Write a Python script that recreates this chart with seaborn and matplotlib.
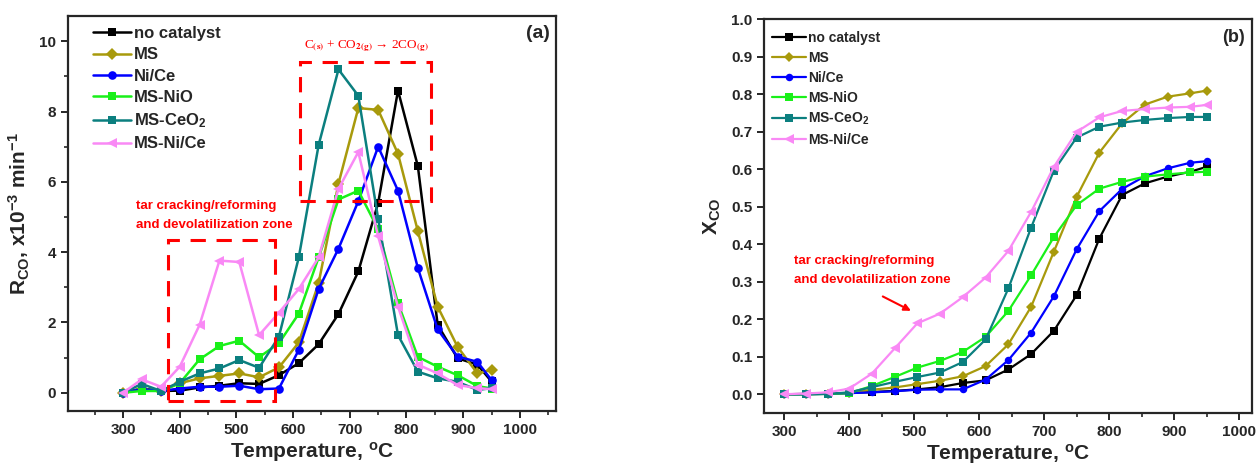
import numpy as np
import pandas as pd
import matplotlib
matplotlib.use('Agg')
import matplotlib.pyplot as plt
import seaborn as sns
from matplotlib.patches import Rectangle
from matplotlib.ticker import MultipleLocator, FormatStrFormatter

# ─────────────────────────────────────────────
# Datos
# ─────────────────────────────────────────────
temperatura = [300, 333, 367, 400, 435, 470, 505, 540, 575, 610,
               645, 680, 715, 750, 785, 820, 855, 890, 925, 950]

series = ['no catalyst', 'MS', 'Ni/Ce', 'MS-NiO', 'MS-CeO$_2$', 'MS-Ni/Ce']
colores = ['#000000', '#A89A0C', '#0000FF', '#19F019', '#0B7F7F', '#F989F5']
marcadores = ['s', 'D', 'o', 's', 's', '<']

# (a) R_CO, x10^-3 min^-1
rco_no_cat = [0, 0.12, 0.05, 0.06, 0.15, 0.2, 0.27, 0.25, 0.5, 0.84,
              1.38, 2.24, 3.45, 5.4, 8.6, 6.45, 1.93, 0.98, 0.8, 0.32]
rco_ms = [0, 0.1, 0.05, 0.27, 0.41, 0.48, 0.55, 0.44, 0.72, 1.43,
          3.12, 5.95, 8.1, 8.05, 6.8, 4.6, 2.45, 1.31, 0.55, 0.65]
rco_nice = [0, 0.1, 0.05, 0.12, 0.17, 0.17, 0.2, 0.1, 0.12, 1.22,
            2.95, 4.1, 5.45, 7.0, 5.75, 3.55, 1.8, 1.03, 0.88, 0.36]
rco_msnio = [0, 0.05, 0.05, 0.27, 0.95, 1.33, 1.48, 1.01, 1.41, 2.25,
             3.85, 5.5, 5.75, 4.65, 2.55, 1.02, 0.74, 0.5, 0.19, 0.12]
rco_msceo2 = [0, 0.25, 0.05, 0.31, 0.55, 0.69, 0.93, 0.71, 1.6, 3.85,
              7.05, 9.2, 8.45, 4.95, 1.64, 0.6, 0.41, 0.31, 0.08, 0.13]
rco_msnice = [0, 0.38, 0.17, 0.74, 1.93, 3.76, 3.72, 1.64, 2.28, 2.95,
              3.85, 5.8, 6.85, 4.45, 2.45, 0.8, 0.55, 0.22, 0.13, 0.1]

# (b) X_CO
xco_no_cat = [0, 0.001, 0.002, 0.003, 0.006, 0.009, 0.013, 0.019, 0.03, 0.037,
              0.066, 0.107, 0.169, 0.264, 0.415, 0.531, 0.562, 0.58, 0.593, 0.606]
xco_ms = [0, 0, 0.001, 0.004, 0.012, 0.018, 0.027, 0.036, 0.048, 0.075,
          0.133, 0.233, 0.38, 0.526, 0.644, 0.722, 0.772, 0.793, 0.802, 0.809]
xco_nice = [0, 0, 0.001, 0.003, 0.005, 0.008, 0.012, 0.013, 0.013, 0.039,
            0.091, 0.164, 0.261, 0.386, 0.488, 0.547, 0.581, 0.602, 0.617, 0.621]
xco_msnio = [0, 0, 0.001, 0.003, 0.022, 0.046, 0.071, 0.089, 0.113, 0.153,
             0.222, 0.317, 0.419, 0.504, 0.548, 0.566, 0.58, 0.586, 0.591, 0.593]
xco_msceo2 = [0, 0, 0.001, 0.005, 0.019, 0.033, 0.046, 0.058, 0.086, 0.146,
              0.282, 0.444, 0.596, 0.684, 0.713, 0.724, 0.731, 0.736, 0.739, 0.739]
xco_msnice = [0, 0.002, 0.005, 0.015, 0.055, 0.122, 0.189, 0.215, 0.259, 0.311,
              0.382, 0.486, 0.606, 0.699, 0.738, 0.755, 0.76, 0.764, 0.766, 0.771]

datos_a = [rco_no_cat, rco_ms, rco_nice, rco_msnio, rco_msceo2, rco_msnice]
datos_b = [xco_no_cat, xco_ms, xco_nice, xco_msnio, xco_msceo2, xco_msnice]

# ─────────────────────────────────────────────
# Estilo
# ─────────────────────────────────────────────
sns.set_style('ticks')
plt.rcParams['font.family'] = ['Liberation Sans', 'DejaVu Sans']
plt.rcParams['font.weight'] = 'bold'
plt.rcParams['mathtext.default'] = 'regular'
plt.rcParams['axes.linewidth'] = 1.6
plt.rcParams['xtick.direction'] = 'out'
plt.rcParams['ytick.direction'] = 'out'

fig = plt.figure(figsize=(12.58, 4.67), dpi=100)
ax1 = fig.add_axes([0.0541, 0.1199, 0.388, 0.8458])
ax2 = fig.add_axes([0.6073, 0.1156, 0.388, 0.8437])


def dibujar(ax, datos, ms, lw):
    for nombre, vals, c, m in zip(series, datos, colores, marcadores):
        df = pd.DataFrame({'T': temperatura, 'v': vals})
        extra = 1.5 if m == '<' else 0
        sns.lineplot(data=df, x='T', y='v', ax=ax, color=c, marker=m,
                     markersize=ms + extra, markeredgewidth=0, linewidth=lw,
                     label=nombre, sort=False)


def ejes(ax, fs_tick):
    for s in ax.spines.values():
        s.set_visible(True)
        s.set_linewidth(1.6)
    ax.tick_params(which='major', length=5, width=1.4, labelsize=fs_tick)
    ax.tick_params(which='minor', length=3, width=1.2)
    for lab in ax.get_xticklabels() + ax.get_yticklabels():
        lab.set_fontweight('bold')


guiones = (0, (5, 3.5))

# ─────────────────────────────────────────────
# (a) R_CO
# ─────────────────────────────────────────────
dibujar(ax1, datos_a, 6.2, 1.8)
ax1.set_xlim(203, 1064)
ax1.set_ylim(-0.52, 10.72)
ax1.xaxis.set_major_locator(MultipleLocator(100))
ax1.xaxis.set_minor_locator(MultipleLocator(50))
ax1.yaxis.set_major_locator(MultipleLocator(2))
ax1.yaxis.set_minor_locator(MultipleLocator(1))
ax1.set_xticks(range(300, 1001, 100))
ax1.set_xlabel('Temperature, $^{o}$C', fontsize=15, fontweight='bold', labelpad=2)
ax1.set_ylabel('R$_{CO}$, x10$^{-3}$ min$^{-1}$', fontsize=15, fontweight='bold', labelpad=5)
ejes(ax1, 11)
ax1.legend(loc='upper left', bbox_to_anchor=(0.03, 1.0), frameon=False,
           prop={'size': 12, 'weight': 'bold'}, handlelength=2.3,
           handletextpad=0.2, labelspacing=0.38, borderaxespad=0.2)
ax1.text(0.963, 0.957, '(a)', transform=ax1.transAxes, ha='center', va='center',
         fontsize=14, fontweight='bold')

ax1.add_patch(Rectangle((379, -0.24), 568 - 379, 4.35 + 0.24, fill=False,
                        ec='red', lw=2.2, ls=guiones, zorder=5))
ax1.add_patch(Rectangle((612, 5.46), 844 - 612, 9.4 - 5.46, fill=False,
                        ec='red', lw=2.2, ls=guiones, zorder=5))
ax1.text(730, 9.85, r'C$_{\mathrm{(s)}}$ + CO$_{\mathrm{2(g)}}$ → 2CO$_{\mathrm{(g)}}$',
         color='red', fontsize=9.5, fontweight='normal', family='Liberation Serif',
         math_fontfamily='stix', ha='center', va='center')
ax1.text(323, 5.05, 'tar cracking/reforming\nand devolatilization zone',
         color='red', fontsize=9.5, fontweight='bold', ha='left', va='center',
         linespacing=1.8)

# ─────────────────────────────────────────────
# (b) X_CO
# ─────────────────────────────────────────────
dibujar(ax2, datos_b, 5.4, 1.6)
ax2.set_xlim(269, 1020)
ax2.set_ylim(-0.05, 1.0)
ax2.xaxis.set_major_locator(MultipleLocator(100))
ax2.xaxis.set_minor_locator(MultipleLocator(50))
ax2.set_xticks(range(300, 1001, 100))
ax2.set_yticks(np.round(np.arange(0, 1.01, 0.1), 1))
ax2.yaxis.set_major_formatter(FormatStrFormatter('%.1f'))
ax2.set_xlabel('Temperature, $^{o}$C', fontsize=15, fontweight='bold', labelpad=2)
ax2.set_ylabel('X$_{CO}$', fontsize=15, fontweight='bold', labelpad=6)
ejes(ax2, 11)
ax2.legend(loc='upper left', bbox_to_anchor=(0.0, 0.99), frameon=False,
           prop={'size': 10, 'weight': 'bold'}, handlelength=2.4,
           handletextpad=0.2, labelspacing=0.42, borderaxespad=0.2)
ax2.text(0.961, 0.954, '(b)', transform=ax2.transAxes, ha='center', va='center',
         fontsize=13, fontweight='bold')
ax2.text(315, 0.329, 'tar cracking/reforming\nand devolatilization zone',
         color='red', fontsize=9.5, fontweight='bold', ha='left', va='center',
         linespacing=1.8)
ax2.annotate('', xy=(499, 0.219), xytext=(448, 0.264),
             arrowprops=dict(arrowstyle='-|>', color='red', lw=1.5,
                             mutation_scale=10))

fig.savefig('out.png', dpi=100)
